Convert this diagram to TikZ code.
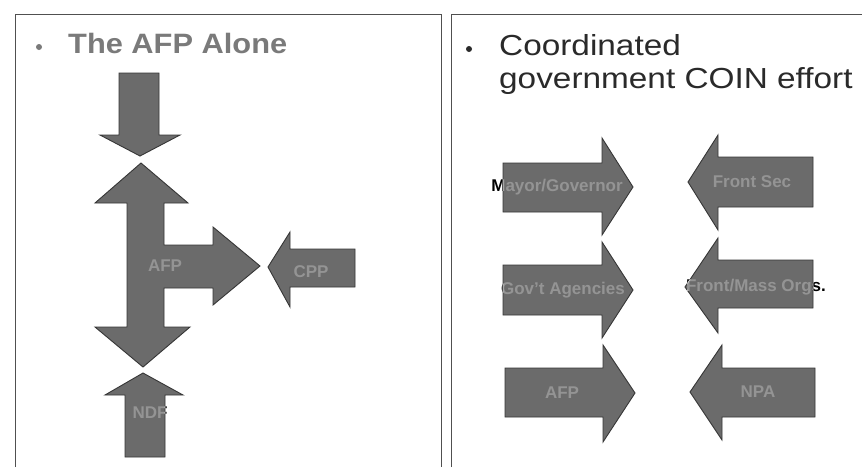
\documentclass[tikz,border=0pt]{standalone}
\usepackage{fontspec}
\setmainfont{Liberation Sans}

\definecolor{arrowgray}{HTML}{6B6B6B}
\definecolor{edgegray}{HTML}{363636}
\definecolor{titlegray}{HTML}{7A7A7A}
\definecolor{framegray}{HTML}{505050}
\definecolor{headdark}{HTML}{2A2A2A}

\begin{document}
\begin{tikzpicture}[x=1pt,y=-1pt,
    blockarrow/.style={fill=arrowgray,draw=edgegray,line width=0.9pt,line join=miter},
    arrowlabel/.style={text=white,inner sep=0pt,font=\bfseries\fontsize{17}{17}\selectfont},
    title/.style={anchor=base west,inner sep=0pt}]
    \useasboundingbox (0,0) rectangle (862,467);
    \fill[white] (0,0) rectangle (862,467);

    % Panel frames
    \draw[framegray,line width=1pt] (15,467) -- (15,14) -- (441,14) -- (441,467);
    \draw[framegray,line width=1pt] (451,467) -- (451,14) -- (862,14);

    % Titles
    \fill[titlegray] (39,47) circle (3);
    \node[title,text=titlegray,font=\bfseries\fontsize{28}{28}\selectfont] (alone) at (68,53)
        {\scalebox{1.1}[1]{The AFP Alone}};
    \fill[headdark] (469,49) circle (3);
    \node[title,text=headdark,font=\fontsize{29}{29}\selectfont] (coordA) at (499,55)
        {\scalebox{1.15}[1]{Coordinated}};
    \node[title,text=headdark,font=\fontsize{29}{29}\selectfont] (coordB) at (499,88)
        {\scalebox{1.15}[1]{government COIN effort}};

    % The AFP alone
    \draw[blockarrow] (119,73) -- (159,73) -- (159,135) -- (180,135) -- (140,156)
        -- (100,135) -- (119,135) -- cycle;
    \draw[blockarrow] (141,163) -- (188,203) -- (164,203) -- (164,245) -- (213,245)
        -- (213,227) -- (260,266) -- (213,305) -- (213,288) -- (164,288) -- (164,327)
        -- (190,327) -- (143,367) -- (95,327) -- (127,327) -- (127,203) -- (95,203) -- cycle;
    \draw[blockarrow] (268,267) -- (290,232) -- (290,249) -- (355,249) -- (355,287)
        -- (290,287) -- (290,307) -- cycle;
    \draw[blockarrow] (143,373) -- (183,395) -- (165,395) -- (165,457) -- (125,457)
        -- (125,395) -- (105,395) -- cycle;

    % Coordinated effort, government side
    \draw[blockarrow] (503,163) -- (602,163) -- (602,138) -- (633,187) -- (602,235)
        -- (602,212) -- (503,212) -- cycle;
    \draw[blockarrow] (503,265) -- (602,265) -- (602,242) -- (633,290) -- (602,338)
        -- (602,315) -- (503,315) -- cycle;
    \draw[blockarrow] (505,368) -- (603,368) -- (603,345) -- (635,393) -- (603,442)
        -- (603,417) -- (505,417) -- cycle;

    % Coordinated effort, insurgent side
    \draw[blockarrow] (813,157) -- (718,157) -- (718,135) -- (688,182) -- (718,230)
        -- (718,207) -- (813,207) -- cycle;
    \draw[blockarrow] (813,260) -- (718,260) -- (718,238) -- (685,287) -- (718,333)
        -- (718,308) -- (813,308) -- cycle;
    \draw[blockarrow] (815,368) -- (722,368) -- (722,345) -- (690,392) -- (722,440)
        -- (722,417) -- (815,417) -- cycle;

    % Labels
    \begin{scope}[blend mode=difference]
        \node[arrowlabel] (afp) at (165,266) {AFP};
        \node[arrowlabel] (cpp) at (311,272) {CPP};
        \node[arrowlabel] (ndf) at (150,413) {NDF};
        \node[arrowlabel] (mayor) at (557,187) {Mayor/Governor};
        \node[arrowlabel] (agencies) at (563,290) {Gov't Agencies};
        \node[arrowlabel] (afpgov) at (562,393) {AFP};
        \node[arrowlabel] (frontsec) at (752,182) {Front Sec};
        \node[arrowlabel] (massorgs) at (756,287) {Front/Mass Orgs.};
        \node[arrowlabel] (npa) at (758,392) {NPA};
    \end{scope}
\end{tikzpicture}
\end{document}
